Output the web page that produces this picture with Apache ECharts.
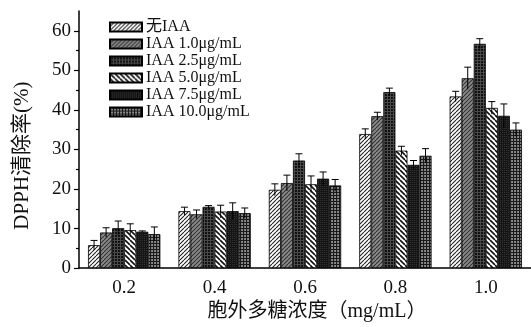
<!DOCTYPE html>
<html>
<head>
<meta charset="utf-8">
<script src="https://cdn.jsdelivr.net/npm/echarts@6/dist/echarts.min.js"></script>
<style>
  html, body { margin: 0; padding: 0; background: #fff; }
  #chart { width: 531px; height: 327px; }
</style>
</head>
<body>
<div id="chart"></div>
<script>
// data
const categories = ['0.2', '0.4', '0.6', '0.8', '1.0']
const seriesNames = ['无IAA', 'IAA 1.0μg/mL', 'IAA 2.5μg/mL', 'IAA 5.0μg/mL', 'IAA 7.5μg/mL', 'IAA 10.0μg/mL']
const noIAA = [5.8, 14.4, 19.8, 33.9, 43.4]
const iaa10 = [9.0, 13.6, 21.5, 38.4, 48.0]
const iaa25 = [10.1, 15.5, 27.2, 44.5, 56.7]
const iaa50 = [9.6, 14.3, 21.2, 29.7, 40.5]
const iaa75 = [9.2, 14.4, 22.6, 26.1, 38.5]
const iaa100 = [8.6, 13.9, 20.9, 28.4, 35.0]
const errNoIAA = [1.2, 1.0, 1.5, 1.3, 1.3]
const err10 = [1.2, 1.1, 2.0, 1.0, 2.8]
const err25 = [1.8, 0.3, 1.7, 1.0, 1.3]
const err50 = [1.6, 1.6, 2.1, 1.1, 1.6]
const err75 = [0.2, 2.1, 1.7, 1.1, 3.0]
const err100 = [1.8, 1.3, 1.5, 1.8, 1.7]
const yTicks = [0, 10, 20, 30, 40, 50, 60]
const yMinorTicks = [5, 15, 25, 35, 45, 55]

const values = [noIAA, iaa10, iaa25, iaa50, iaa75, iaa100]
const errors = [errNoIAA, err10, err25, err50, err75, err100]

const FONT = "'Liberation Serif', 'Noto Sans CJK SC', serif"

// fill patterns
function pattern(bg, size, draw) {
  const c = document.createElement('canvas')
  c.width = c.height = size
  const g = c.getContext('2d')
  g.fillStyle = bg
  g.fillRect(0, 0, size, size)
  draw(g, size)
  return { image: c, repeat: 'repeat' }
}
function slash(g, s, color, w, back) {
  g.strokeStyle = color
  g.lineWidth = w
  g.beginPath()
  for (let k = -1; k <= 1; k++) {
    if (back) {
      g.moveTo(k * s, 0); g.lineTo(k * s + s, s)
    } else {
      g.moveTo(k * s, s); g.lineTo(k * s + s, 0)
    }
  }
  g.stroke()
}
function grid(g, s, color, w) {
  g.strokeStyle = color
  g.lineWidth = w
  g.beginPath()
  g.moveTo(0, 0.5); g.lineTo(s, 0.5)
  g.moveTo(0.5, 0); g.lineTo(0.5, s)
  g.stroke()
}

const fills = [
  pattern('#fff', 4, (g, s) => slash(g, s, '#222', 1.1, false)),
  pattern('#8a8a8a', 4, (g, s) => slash(g, s, '#333', 1.1, false)),
  pattern('#111', 3, (g, s) => grid(g, s, '#4a4a4a', 1)),
  pattern('#fff', 5, (g, s) => slash(g, s, '#111', 1.6, true)),
  pattern('#151515', 2, (g, s) => { g.fillStyle = '#333'; g.fillRect(0, 0, 1, 1) }),
  pattern('#8a8a8a', 3, (g, s) => grid(g, s, '#1a1a1a', 1.2))
]

const chart = echarts.init(document.getElementById('chart'))

const barSeries = seriesNames.map((name, i) => ({
  name,
  type: 'bar',
  xAxisIndex: 0,
  yAxisIndex: 0,
  barGap: '0%',
  barCategoryGap: '20%',
  data: values[i],
  itemStyle: { color: fills[i], borderColor: '#000', borderWidth: 0.8 }
}))

const errSeries = seriesNames.map((name, i) => ({
  type: 'custom',
  name: name + '-err',
  xAxisIndex: 0,
  yAxisIndex: 0,
  silent: true,
  z: 5,
  data: values[i].map((v, j) => [j, v, errors[i][j]]),
  encode: { x: 0, y: 1 },
  renderItem(params, api) {
    const cat = api.value(0)
    const v = api.value(1)
    const e = api.value(2)
    const band = api.size([1, 0])[0]
    const bw = band * 0.8 / 6
    const cx = api.coord([cat, v])[0] + (i - 2.5) * bw
    const top = api.coord([cat, v + e])[1]
    const bot = api.coord([cat, v - e])[1]
    const cap = 3.5
    return {
      type: 'group',
      children: [
        { type: 'line', shape: { x1: cx, y1: top, x2: cx, y2: bot }, style: { stroke: '#000', lineWidth: 1 } },
        { type: 'line', shape: { x1: cx - cap, y1: top, x2: cx + cap, y2: top }, style: { stroke: '#000', lineWidth: 1 } }
      ]
    }
  }
}))

chart.setOption({
  animation: false,
  backgroundColor: '#fff',
  grid: { left: 79, right: -8, top: 11, bottom: 58 },
  legend: {
    orient: 'vertical',
    left: 104,
    top: 14,
    icon: 'rect',
    itemWidth: 32,
    itemHeight: 9,
    itemGap: 1,
    data: seriesNames,
    textStyle: { fontFamily: FONT, fontSize: 16, color: '#111', lineHeight: 15, padding: [0, 0, 0, -1] }
  },
  xAxis: [
    {
      type: 'category',
      data: categories,
      name: '胞外多糖浓度（mg/mL）',
      nameLocation: 'middle',
      nameGap: 33,
      nameTextStyle: { fontFamily: FONT, fontSize: 20, color: '#111', padding: [0, 0, 0, 24] },
      axisLine: { lineStyle: { color: '#000', width: 1.5 } },
      axisTick: { alignWithLabel: true, length: 6, lineStyle: { color: '#000', width: 1.2 } },
      axisLabel: { fontFamily: FONT, fontSize: 19, color: '#111', margin: 10 }
    },
    {
      type: 'category',
      data: categories,
      position: 'bottom',
      axisLine: { show: false },
      axisTick: { length: 3, lineStyle: { color: '#000', width: 1.2 } },
      axisLabel: { show: false }
    }
  ],
  yAxis: [
    {
      type: 'value',
      min: 0,
      max: 65,
      name: 'DPPH清除率(%)',
      nameLocation: 'middle',
      nameGap: 46,
      nameTextStyle: { fontFamily: FONT, fontSize: 21, color: '#111', padding: [0, 32, 0, 0] },
      splitLine: { show: false },
      axisLine: { show: true, lineStyle: { color: '#000', width: 1.5 } },
      axisTick: { show: true, length: 5, customValues: yTicks, lineStyle: { color: '#000', width: 1.2 } },
      axisLabel: { customValues: yTicks, fontFamily: FONT, fontSize: 19, color: '#111', margin: 8 }
    },
    {
      type: 'value',
      min: 0,
      max: 65,
      position: 'left',
      splitLine: { show: false },
      axisLine: { show: false },
      axisTick: { show: true, length: 3, customValues: yMinorTicks, lineStyle: { color: '#000', width: 1.2 } },
      axisLabel: { show: false }
    }
  ],
  series: [...barSeries, ...errSeries]
})
</script>
</body>
</html>
